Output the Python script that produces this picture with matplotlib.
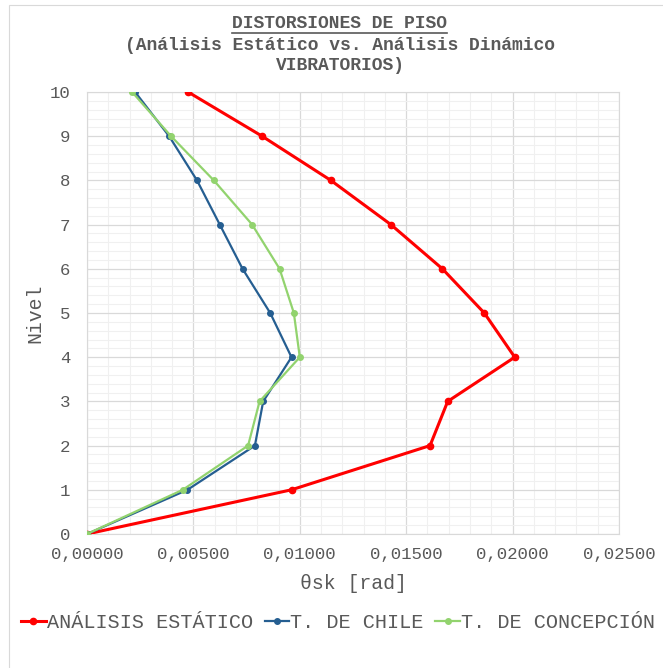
import matplotlib.pyplot as plt
from matplotlib.ticker import MultipleLocator, FuncFormatter
from matplotlib.patches import Rectangle
from matplotlib.lines import Line2D

# niveles del edificio
niveles = [0, 1, 2, 3, 4, 5, 6, 7, 8, 9, 10]

# distorsiones de piso [rad]
estatico = [0.0, 0.00961, 0.01612, 0.01695, 0.02010, 0.01867, 0.01670, 0.01428, 0.01146, 0.00823, 0.00475]
chile = [0.0, 0.00472, 0.00789, 0.00828, 0.00961, 0.00861, 0.00731, 0.00624, 0.00517, 0.00386, 0.00226]
concepcion = [0.0, 0.00450, 0.00757, 0.00811, 0.01000, 0.00972, 0.00905, 0.00776, 0.00596, 0.00395, 0.00212]

etiquetas = ["ANÁLISIS ESTÁTICO", "T. DE CHILE", "T. DE CONCEPCIÓN"]

plt.rcParams['font.family'] = ['Liberation Mono', 'DejaVu Sans Mono']

W, H = 663, 668
gris = '#595959'
fig = plt.figure(figsize=(W / 100, H / 100), dpi=100)
ax = fig.add_axes([87 / W, 1 - 534 / H, (619 - 87) / W, (534 - 92) / H])

# borde exterior tenue del area del grafico
fig.patches.append(Rectangle((9 / W, -0.1), 1.2, 1 - 5 / H + 0.1, transform=fig.transFigure,
                             fill=False, edgecolor='#D9D9D9', linewidth=0.8))

ax.plot(estatico, niveles, color='#FF0000', lw=2.2, marker='o', ms=4.5, label=etiquetas[0], zorder=3)
ax.plot(chile, niveles, color='#255E91', lw=1.6, marker='o', ms=4, label=etiquetas[1], zorder=4)
ax.plot(concepcion, niveles, color='#92D36E', lw=1.6, marker='o', ms=4, label=etiquetas[2], zorder=5)

ax.set_xlim(0, 0.025)
ax.set_ylim(0, 10)
ax.xaxis.set_major_locator(MultipleLocator(0.005))
ax.xaxis.set_minor_locator(MultipleLocator(0.001))
ax.yaxis.set_major_locator(MultipleLocator(1))
ax.yaxis.set_minor_locator(MultipleLocator(0.2))
ax.xaxis.set_major_formatter(FuncFormatter(lambda v, p: f"{v:.5f}".replace('.', ',')))

ax.grid(which='major', color='#D9D9D9', lw=0.9)
ax.grid(which='minor', color='#F0F0F0', lw=0.8)
ax.set_axisbelow(True)
for s in ax.spines.values():
    s.set_color('#D9D9D9')
ax.tick_params(which='both', length=0, colors=gris, labelsize=12.5)
ax.tick_params(axis='x', pad=9)
ax.tick_params(axis='y', pad=12)

ax.set_xlabel("θsk [rad]", fontsize=14.3, color=gris, labelpad=9)
ax.set_ylabel("Nivel", fontsize=14.3, color=gris, labelpad=4)

# titulo (tres lineas, la primera subrayada)
t1 = fig.text(340 / W, 1 - 28 / H, "DISTORSIONES DE PISO", ha='center', va='baseline',
              fontsize=13, fontweight='bold', color=gris)
fig.text(340 / W, 1 - 50 / H, "(Análisis Estático vs. Análisis Dinámico", ha='center', va='baseline',
         fontsize=13, fontweight='bold', color=gris)
fig.text(340 / W, 1 - 70 / H, "VIBRATORIOS)", ha='center', va='baseline',
         fontsize=13, fontweight='bold', color=gris)

fig.canvas.draw()
bb = t1.get_window_extent().transformed(fig.transFigure.inverted())
y_sub = 1 - 32.5 / H
fig.add_artist(Line2D([bb.x0, bb.x1], [y_sub, y_sub], transform=fig.transFigure,
                      color=gris, lw=1.2))

fig.legend(loc='center', bbox_to_anchor=(338 / W, 1 - 623 / H), ncol=3, frameon=False,
           fontsize=14.5, handlelength=1.2, handletextpad=0.05, columnspacing=0.6,
           labelcolor=gris)

fig.savefig("out.png", dpi=100)
